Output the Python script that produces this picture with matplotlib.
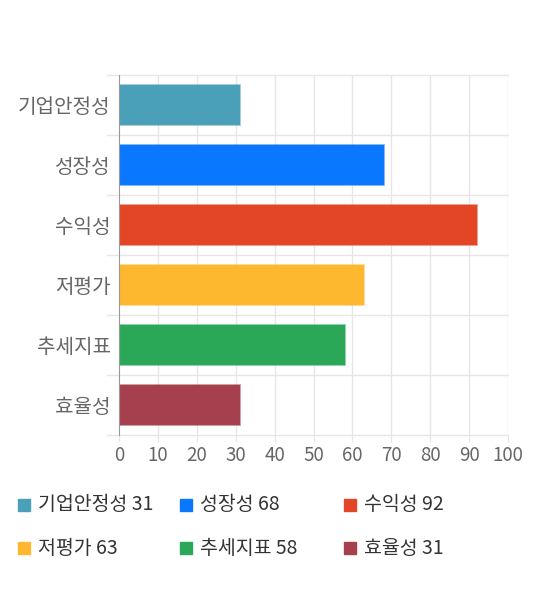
import matplotlib
matplotlib.use("Agg")
import matplotlib.pyplot as plt
from matplotlib.patches import Rectangle

plt.rcParams['font.family'] = ['Noto Sans CJK KR', 'DejaVu Sans']

# data
categories = ['기업안정성', '성장성', '수익성', '저평가', '추세지표', '효율성']
scores = [31, 68, 92, 63, 58, 31]
colors = ['#4AA0B9', '#0A77FF', '#E34626', '#FDB830', '#2AA858', '#A6404F']
x_ticks = [0, 10, 20, 30, 40, 50, 60, 70, 80, 90, 100]

fig = plt.figure(figsize=(5.4, 5.9), dpi=100)
ax = fig.add_axes([119 / 540, 1 - 435 / 590, 389 / 540, 360 / 590])

ypos = list(range(len(categories)))
ax.barh(ypos, scores, height=0.68, color=colors,
        edgecolor=[c + '99' for c in colors], linewidth=1.2, zorder=3)

ax.set_xlim(0, 100)
ax.set_ylim(len(categories) - 0.5, -0.5)
ax.set_xticks(x_ticks)
ax.set_yticks(ypos)
ax.set_yticklabels(categories, fontweight='light')

# grid: vertical lines at x ticks, horizontal lines at band edges
for x in x_ticks[1:]:
    ax.axvline(x, color='#e6e6e6', linewidth=1, zorder=1)
for i in range(len(categories) + 1):
    ax.plot([-3, 100], [i - 0.5, i - 0.5], color='#e6e6e6', linewidth=1,
            zorder=1, clip_on=False)

for s in ['top', 'right', 'bottom']:
    ax.spines[s].set_visible(False)
ax.spines['left'].set_color('#999999')
ax.spines['left'].set_zorder(4)

ax.tick_params(axis='y', length=0, pad=6, labelsize=14.5, labelcolor='#666666')
ax.tick_params(axis='x', length=5, color='#e6e6e6', pad=2, labelsize=13.5,
               labelcolor='#666666')
for lbl in ax.get_xticklabels():
    lbl.set_fontweight('light')

# legend drawn by hand, 3 columns x 2 rows
col_x = [18, 180, 344]
row_y = [505, 548]
for i, (cat, val, c) in enumerate(zip(categories, scores, colors)):
    cx = col_x[i % 3]
    cy = row_y[i // 3]
    fig.patches.append(Rectangle((cx / 540, 1 - (cy + 6) / 590), 12 / 540, 12 / 590,
                                 transform=fig.transFigure, color=c))
    fig.text((cx + 20) / 540, 1 - cy / 590, f'{cat} {val}', fontsize=14,
             color='#333333', va='center', ha='left')

fig.savefig('out.png', dpi=100)
